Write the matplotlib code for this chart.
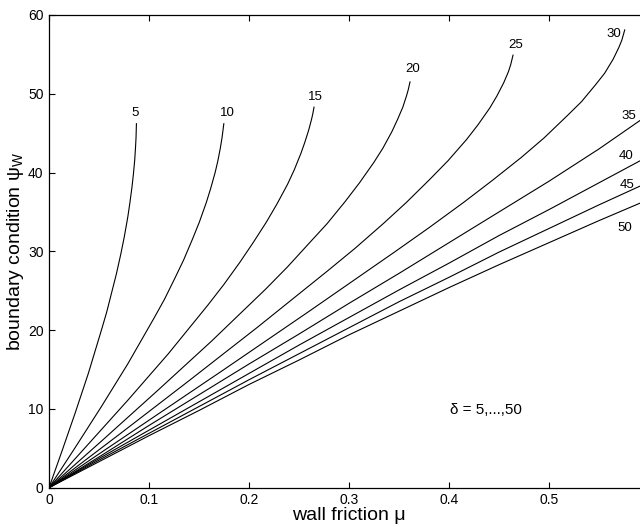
import matplotlib
matplotlib.use('Agg')
import matplotlib.pyplot as plt

plt.rcParams['font.family'] = ['Liberation Sans', 'DejaVu Sans']
plt.rcParams['mathtext.fontset'] = 'custom'
plt.rcParams['mathtext.rm'] = 'Liberation Sans'

# wall friction mu and boundary condition psi_W (deg) for each delta
delta = [5, 10, 15, 20, 25, 30, 35, 40, 45, 50]

mu_5 = [0.0, 0.0131, 0.0262, 0.0393, 0.0524, 0.0577, 0.0629, 0.0673, 0.0717, 0.0752,
        0.0787, 0.0808, 0.0830, 0.0843, 0.0857, 0.0865, 0.0870, 0.0874]
psi_5 = [0.0, 4.7, 9.5, 14.5, 20.0, 22.3, 24.9, 27.1, 29.6, 31.8,
         34.3, 36.1, 38.2, 39.7, 41.6, 43.2, 44.4, 46.2]
mu_10 = [0.0, 0.0262, 0.0524, 0.0787, 0.1049, 0.1154, 0.1259, 0.1346, 0.1433, 0.1503,
         0.1573, 0.1617, 0.1661, 0.1687, 0.1713, 0.1731, 0.1739, 0.1748]
psi_10 = [0.0, 5.1, 10.3, 15.7, 21.5, 23.9, 26.6, 28.9, 31.5, 33.7,
          36.2, 38.0, 40.0, 41.4, 43.1, 44.5, 45.3, 46.2]
mu_15 = [0.0, 0.0398, 0.0795, 0.1193, 0.1590, 0.1749, 0.1908, 0.2041, 0.2173, 0.2279,
         0.2385, 0.2451, 0.2518, 0.2557, 0.2597, 0.2624, 0.2637, 0.2650]
psi_15 = [0.0, 5.6, 11.2, 17.0, 23.2, 25.8, 28.6, 31.1, 33.7, 36.0,
          38.5, 40.3, 42.4, 43.8, 45.4, 46.7, 47.4, 48.3]
mu_20 = [0.0, 0.0541, 0.1083, 0.1625, 0.2166, 0.2383, 0.2599, 0.2780, 0.2960, 0.3105,
         0.3249, 0.3339, 0.3429, 0.3484, 0.3538, 0.3574, 0.3592, 0.3610]
psi_20 = [0.0, 6.1, 12.3, 18.6, 25.2, 28.0, 31.0, 33.5, 36.3, 38.7,
          41.3, 43.1, 45.2, 46.7, 48.3, 49.7, 50.5, 51.5]
mu_25 = [0.0, 0.0696, 0.1392, 0.2088, 0.2784, 0.3062, 0.3341, 0.3573, 0.3805, 0.3990,
         0.4176, 0.4292, 0.4408, 0.4478, 0.4547, 0.4594, 0.4617, 0.4640]
psi_25 = [0.0, 6.7, 13.5, 20.4, 27.5, 30.4, 33.5, 36.2, 39.1, 41.5,
          44.2, 46.1, 48.2, 49.7, 51.4, 52.8, 53.7, 54.9]
mu_30 = [0.0, 0.0864, 0.1727, 0.2591, 0.3454, 0.3800, 0.4145, 0.4433, 0.4721, 0.4951,
         0.5181, 0.5325, 0.5469, 0.5556, 0.5642, 0.5699, 0.5728, 0.5757]
psi_30 = [0.0, 7.4, 14.8, 22.3, 29.9, 33.0, 36.2, 39.0, 41.9, 44.4,
          47.2, 49.0, 51.2, 52.6, 54.4, 55.9, 56.8, 58.1]
mu_wide = [0.0, 0.05, 0.10, 0.15, 0.20, 0.25, 0.30, 0.35, 0.40, 0.45, 0.50, 0.55, 0.60]
psi_35 = [0.0, 3.9, 7.9, 11.8, 15.7, 19.5, 23.4, 27.2, 31.1, 35.0, 38.9, 43.0, 47.4]
psi_40 = [0.0, 3.7, 7.3, 10.9, 14.5, 18.1, 21.6, 25.1, 28.5, 32.0, 35.3, 38.7, 42.1]
psi_45 = [0.0, 3.5, 6.9, 10.3, 13.7, 17.0, 20.3, 23.6, 26.7, 29.9, 32.9, 35.9, 38.8]
psi_50 = [0.0, 3.3, 6.6, 9.8, 13.1, 16.2, 19.4, 22.4, 25.4, 28.3, 31.1, 33.9, 36.6]

mus = [mu_5, mu_10, mu_15, mu_20, mu_25, mu_30, mu_wide, mu_wide, mu_wide, mu_wide]
psis = [psi_5, psi_10, psi_15, psi_20, psi_25, psi_30, psi_35, psi_40, psi_45, psi_50]

# where the delta labels sit
label_mu = [0.086, 0.178, 0.266, 0.364, 0.467, 0.565, 0.580, 0.577, 0.578, 0.576]
label_psi = [47.6, 47.5, 49.6, 53.2, 56.2, 57.6, 47.2, 42.1, 38.4, 33.0]

fig = plt.figure(figsize=(6.4, 5.27), dpi=100)
ax = fig.add_axes([0.0766, 0.0746, 0.9375, 0.897])

for m, p in zip(mus, psis):
    ax.plot(m, p, color='black', lw=0.8)

for d, x, y in zip(delta, label_mu, label_psi):
    ax.text(x, y, str(d), fontsize=9.5, ha='center', va='center')

ax.text(0.437, 9.9, 'δ = 5,...,50', fontsize=11, ha='center', va='center')

ax.set_xlim(0, 0.6)
ax.set_ylim(0, 60)
ax.set_xticks([0, 0.1, 0.2, 0.3, 0.4, 0.5, 0.6])
ax.set_xticklabels(['0', '0.1', '0.2', '0.3', '0.4', '0.5', ''])
ax.set_yticks(range(0, 70, 10))
ax.tick_params(direction='in', top=True, right=True, length=4, width=0.8, labelsize=10, pad=4)
for s in ax.spines.values():
    s.set_linewidth(0.9)

ax.set_xlabel('wall friction μ', fontsize=14, labelpad=0)
ax.set_ylabel(r'boundary condition ψ$_{\mathrm{W}}$', fontsize=14, labelpad=1)

fig.savefig('out.png', dpi=100)
